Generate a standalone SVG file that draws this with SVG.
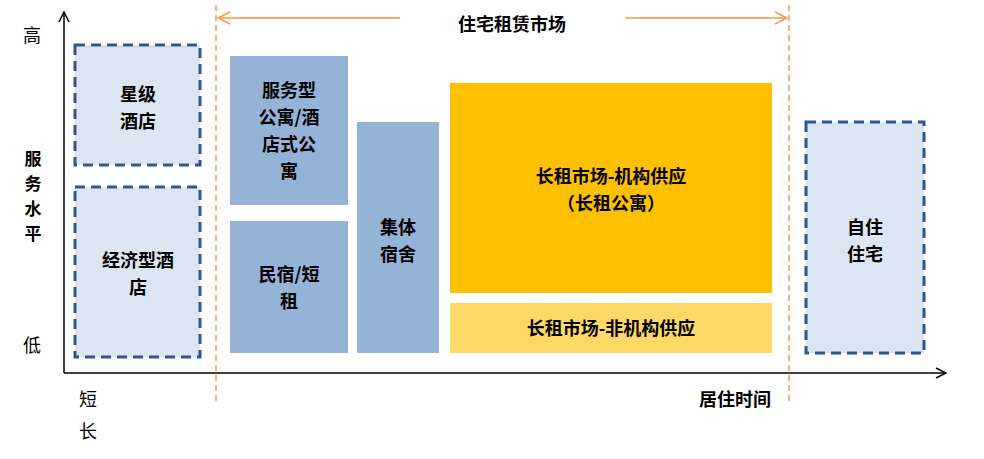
<svg xmlns="http://www.w3.org/2000/svg" width="984" height="459" viewBox="0 0 984 459">
<style>
text{font-family:"Noto Sans CJK SC",sans-serif;font-size:18px;fill:#000;text-anchor:middle;font-weight:bold}
.v{font-size:17px}
.dash{fill:#dce6f2;stroke:#2f5597;stroke-width:3;stroke-dasharray:10,6}
.blue{fill:#95b3d7}
.ax{stroke:#000;stroke-width:1.5;fill:none}
.or{stroke:#f79646;stroke-width:1.5;fill:none}
</style>
<defs>
<marker id="ah" markerWidth="12" markerHeight="12" refX="11" refY="6" orient="auto" markerUnits="userSpaceOnUse"><path d="M1,1 L11,6 L1,11" fill="none" stroke="#000" stroke-width="1.5"/></marker>
<marker id="oh" markerWidth="14" markerHeight="14" refX="13" refY="7" orient="auto" markerUnits="userSpaceOnUse"><path d="M1,1 L13,7 L1,13" fill="none" stroke="#f79646" stroke-width="1.5"/></marker>
</defs>
<g id="connectors">
<line class="ax" x1="64" y1="373" x2="64" y2="12" marker-end="url(#ah)"/>
<line class="ax" x1="64" y1="373" x2="946" y2="373" marker-end="url(#ah)"/>
<line class="or" x1="216" y1="5" x2="216" y2="405" stroke-dasharray="6,4"/>
<line class="or" x1="789" y1="5" x2="789" y2="405" stroke-dasharray="6,4"/>
<line class="or" x1="400" y1="18" x2="218" y2="18" marker-end="url(#oh)"/>
<line class="or" x1="625" y1="18" x2="787" y2="18" marker-end="url(#oh)"/>
</g>
<g id="labels">
<text x="512" y="31">住宅租赁市场</text>
<text x="32" y="42" style="font-weight:normal">高</text>
<text x="32" y="352" style="font-weight:normal">低</text>
<text class="v" x="33" y="165">服</text><text class="v" x="33" y="190">务</text><text class="v" x="33" y="215">水</text><text class="v" x="33" y="240">平</text>
<text x="88" y="406" style="font-weight:normal">短</text>
<text x="88" y="438" style="font-weight:normal">长</text>
<text x="735" y="406">居住时间</text>
</g>
<g id="n1"><rect class="dash" x="75" y="45" width="125" height="120"/><text x="138" y="101">星级</text><text x="138" y="128">酒店</text></g>
<g id="n2"><rect class="dash" x="75" y="187" width="125" height="170"/><text x="138" y="267">经济型酒</text><text x="138" y="294">店</text></g>
<g id="n3"><rect class="dash" x="806" y="122" width="118" height="231"/><text x="865" y="234">自住</text><text x="865" y="261">住宅</text></g>
<g id="n4"><rect class="blue" x="230" y="56" width="118" height="149"/><text x="289" y="97">服务型</text><text x="289" y="124">公寓/酒</text><text x="289" y="151">店式公</text><text x="289" y="178">寓</text></g>
<g id="n5"><rect class="blue" x="230" y="221" width="118" height="132"/><text x="289" y="281">民宿/短</text><text x="289" y="308">租</text></g>
<g id="n6"><rect class="blue" x="357" y="122" width="82" height="231"/><text x="398" y="234">集体</text><text x="398" y="261">宿舍</text></g>
<g id="n7"><rect fill="#ffc000" x="450" y="83" width="322" height="210"/><text x="611" y="183">长租市场-机构供应</text><text x="611" y="210">（长租公寓）</text></g>
<g id="n8"><rect fill="#ffd966" x="450" y="303" width="322" height="50"/><text x="611" y="335">长租市场-非机构供应</text></g>
</svg>
